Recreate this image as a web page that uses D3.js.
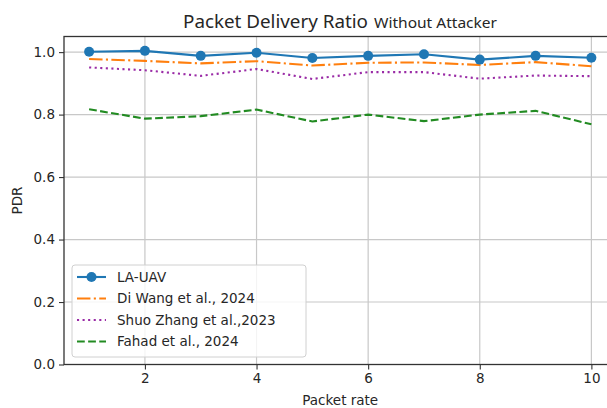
<!DOCTYPE html>
<html>
<head>
	<script src="https://cdn.jsdelivr.net/npm/d3@7/dist/d3.min.js"></script>
	<style>
		html, body {
			padding: 0;
			margin: 0;
			background: white;
		}
		text {
			font-family: "DejaVu Sans", sans-serif;
			fill: #262626;
		}
	</style>
</head>
<body>
	<script>
		// data
		var packetRate = [1, 2, 3, 4, 5, 6, 7, 8, 9, 10];
		var laUav = [1.001, 1.004, 0.988, 0.998, 0.981, 0.988, 0.993, 0.976, 0.988, 0.982];
		var diWang = [0.978, 0.972, 0.964, 0.971, 0.957, 0.966, 0.967, 0.959, 0.968, 0.955];
		var shuoZhang = [0.951, 0.942, 0.924, 0.946, 0.914, 0.936, 0.936, 0.915, 0.925, 0.923];
		var fahad = [0.817, 0.787, 0.795, 0.816, 0.778, 0.800, 0.779, 0.800, 0.812, 0.769];
		var xTicks = [2, 4, 6, 8, 10];
		var yTicks = [0, 0.2, 0.4, 0.6, 0.8, 1.0];

		var width = 607, height = 408;
		var lw = 2.1;

		var svg = d3.select('body').append('svg')
			.attr('width', width)
			.attr('height', height);

		var x = d3.scaleLinear().domain([0.55, 10.45]).range([64, 616.5]);
		var y = d3.scaleLinear().domain([0, 1.05]).range([364.5, 36.5]);

		//////// GRID ////////
		var grid = svg.append('g');
		grid.selectAll('.gx').data(xTicks).enter().append('line')
			.attr('x1', d => x(d)).attr('x2', d => x(d))
			.attr('y1', y.range()[0]).attr('y2', y.range()[1])
			.attr('stroke', '#c8c8c8').attr('stroke-width', 1.2);
		grid.selectAll('.gy').data(yTicks).enter().append('line')
			.attr('x1', x.range()[0]).attr('x2', x.range()[1])
			.attr('y1', d => y(d)).attr('y2', d => y(d))
			.attr('stroke', '#c8c8c8').attr('stroke-width', 1.2);

		//////// AXES ////////
		var xAxis = svg.append('g')
			.attr('transform', 'translate(0,' + y.range()[0] + ')')
			.call(d3.axisBottom(x).tickValues(xTicks).tickSize(5).tickPadding(4).tickFormat(d3.format('d')));
		var yAxis = svg.append('g')
			.attr('transform', 'translate(' + x.range()[0] + ',0)')
			.call(d3.axisLeft(y).tickValues(yTicks).tickSize(5).tickPadding(4).tickFormat(d3.format('.1f')));
		[xAxis, yAxis].forEach(function(a) {
			a.select('.domain').remove();
			a.selectAll('line').attr('stroke', '#333').attr('stroke-width', 1.1);
			a.selectAll('text').style('font-size', '13.5px').style('font-family', '"DejaVu Sans"').attr('fill', '#262626');
		});

		// spines
		svg.append('rect')
			.attr('x', x.range()[0]).attr('y', y.range()[1])
			.attr('width', x.range()[1] - x.range()[0])
			.attr('height', y.range()[0] - y.range()[1])
			.attr('fill', 'none').attr('stroke', '#333').attr('stroke-width', 1.3);

		//////// LINES ////////
		var series = [
			{ name: 'LA-UAV', values: laUav, color: '#1f77b4', dash: null, marker: true },
			{ name: 'Di Wang et al., 2024', values: diWang, color: '#ff7f0e', dash: [6.4 * lw, 1.6 * lw, 1 * lw, 1.6 * lw], marker: false },
			{ name: 'Shuo Zhang et al.,2023', values: shuoZhang, color: '#9a2ba6', dash: [1 * lw, 1.65 * lw], marker: false },
			{ name: 'Fahad et al., 2024', values: fahad, color: '#228b22', dash: [3.7 * lw, 1.6 * lw], marker: false }
		];

		var line = d3.line()
			.x((d, i) => x(packetRate[i]))
			.y(d => y(d));

		// draw back to front so LA-UAV is on top
		series.slice().reverse().forEach(function(s) {
			svg.append('path')
				.datum(s.values)
				.attr('d', line)
				.attr('fill', 'none')
				.attr('stroke', s.color)
				.attr('stroke-width', lw)
				.attr('stroke-dasharray', s.dash ? s.dash.join(',') : null);
			if (s.marker) {
				svg.selectAll('.pt').data(s.values).enter().append('circle')
					.attr('cx', (d, i) => x(packetRate[i]))
					.attr('cy', d => y(d))
					.attr('r', 5)
					.attr('fill', s.color);
			}
		});

		//////// LEGEND ////////
		var legend = svg.append('g');
		legend.append('rect')
			.attr('x', 72).attr('y', 265)
			.attr('width', 234).attr('height', 92)
			.attr('rx', 3)
			.attr('fill', 'white').attr('fill-opacity', 0.8)
			.attr('stroke', '#d0d0d0').attr('stroke-width', 1);

		series.forEach(function(s, i) {
			var ly = 277 + i * 21.5;
			legend.append('line')
				.attr('x1', 77).attr('x2', 106)
				.attr('y1', ly).attr('y2', ly)
				.attr('stroke', s.color)
				.attr('stroke-width', lw)
				.attr('stroke-dasharray', s.dash ? s.dash.join(',') : null);
			if (s.marker) {
				legend.append('circle')
					.attr('cx', 91.5).attr('cy', ly).attr('r', 5).attr('fill', s.color);
			}
			legend.append('text')
				.attr('x', 117).attr('y', ly)
				.attr('dy', '0.36em')
				.style('font-size', '13.5px')
				.text(s.name);
		});

		//////// LABELS ////////
		svg.append('text')
			.attr('x', x((x.domain()[0] + x.domain()[1]) / 2))
			.attr('y', 405)
			.attr('text-anchor', 'middle')
			.style('font-size', '13.5px')
			.text('Packet rate');

		svg.append('text')
			.attr('transform', 'translate(22,' + y(0.525) + ') rotate(-90)')
			.attr('text-anchor', 'middle')
			.style('font-size', '13.5px')
			.text('PDR');

		var title = svg.append('text')
			.attr('x', 183)
			.attr('y', 27.5);
		title.append('tspan')
			.style('font-size', '18px')
			.style('font-family', '"Noto Sans"')
			.attr('textLength', 185)
			.attr('lengthAdjust', 'spacingAndGlyphs')
			.text('Packet Delivery Ratio');
		title.append('tspan')
			.attr('x', 374)
			.style('font-size', '15px')
			.style('font-family', '"Noto Sans"')
			.attr('textLength', 123)
			.attr('lengthAdjust', 'spacingAndGlyphs')
			.text('Without Attacker');
	</script>
</body>
</html>
